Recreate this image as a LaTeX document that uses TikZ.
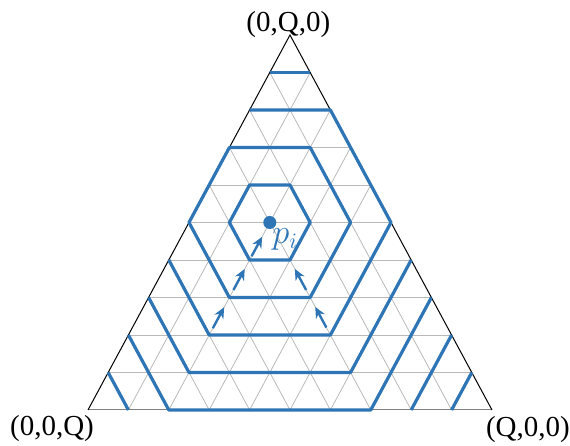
\documentclass[tikz,border=0pt]{standalone}
\usepackage{fontspec}
\setmainfont{Liberation Serif}
\usetikzlibrary{arrows.meta,calc}
\definecolor{ringblue}{RGB}{46,117,182}
\begin{document}
\begin{tikzpicture}[x=20.2pt,y=18.75pt,
  grid/.style={gray!55, line width=0.4pt},
  ring/.style={ringblue, line width=1.6pt, line join=round},
  flow/.style={ringblue, line width=1.2pt, -{Stealth[length=5.5pt,width=5pt]}},
  corner/.style={font=\fontsize{14.5}{17}\selectfont, inner sep=0pt}]
\useasboundingbox (-2.178,-0.96) rectangle (11.931,10.933);
\coordinate (bl) at (0,0);
\coordinate (br) at (10,0);
\coordinate (tp) at (5,10);
% lattice
\foreach \k in {1,...,9} {
  \draw[grid] (\k/2,\k) -- (10-\k/2,\k);
  \draw[grid] (\k,0) -- ({\k+(10-\k)/2},{10-\k});
  \draw[grid] (\k,0) -- (\k/2,\k);
}
\draw[gray, line width=0.5pt] (bl) -- (br);
\draw[black, line width=0.5pt] (bl) -- (tp) -- (br);
% rings round p_i
\draw[ring] (4,6) -- (5,6) -- (5.5,5) -- (5,4) -- (4,4) -- (3.5,5) -- cycle;
\draw[ring] (3.5,7) -- (5.5,7) -- (6.5,5) -- (5.5,3) -- (3.5,3) -- (2.5,5) -- cycle;
\draw[ring] (2,4) -- (3,2) -- (6,2) -- (7.5,5) -- (6,8) -- (4,8);
\draw[ring] (4.5,9) -- (5.5,9);
\draw[ring] (1.5,3) -- (2.5,1) -- (6.5,1) -- (8,4);
\draw[ring] (1,2) -- (2,0) -- (7,0) -- (8.5,3);
\draw[ring] (0.5,1) -- (1,0);
\draw[ring] (8,0) -- (9,2);
\draw[ring] (9,0) -- (9.5,1);
% arrows towards p_i
\coordinate (c) at (4.5,5);
\coordinate (l1) at (4,4);
\coordinate (l2) at (3.5,3);
\coordinate (l3) at (3,2);
\coordinate (r1) at (5,4);
\coordinate (r2) at (5.5,3);
\coordinate (r3) at (6,2);
\draw[flow] ($(l1)!0.1!(c)$) -- ($(l1)!0.62!(c)$);
\draw[flow] ($(l2)!0.2!(l1)$) -- ($(l2)!0.76!(l1)$);
\draw[flow] ($(l3)!0.18!(l2)$) -- ($(l3)!0.74!(l2)$);
\draw[flow] ($(r2)!0.2!(r1)$) -- ($(r2)!0.76!(r1)$);
\draw[flow] ($(r3)!0.2!(r2)$) -- ($(r3)!0.75!(r2)$);
\node[circle, fill=ringblue, minimum size=6.5pt, inner sep=0pt] (pi) at (c) {};
\node[ringblue, font=\fontsize{16}{18}\selectfont] (pilabel) at (4.88,4.55) {$p_i$};
% corner labels
\node[corner] (ltop) at (4.96,10.28) {(0,Q,0)};
\node[corner] (lbl) at (-0.89,-0.5) {(0,0,Q)};
\node[corner] (lbr) at (10.89,-0.53) {(Q,0,0)};
\end{tikzpicture}
\end{document}
